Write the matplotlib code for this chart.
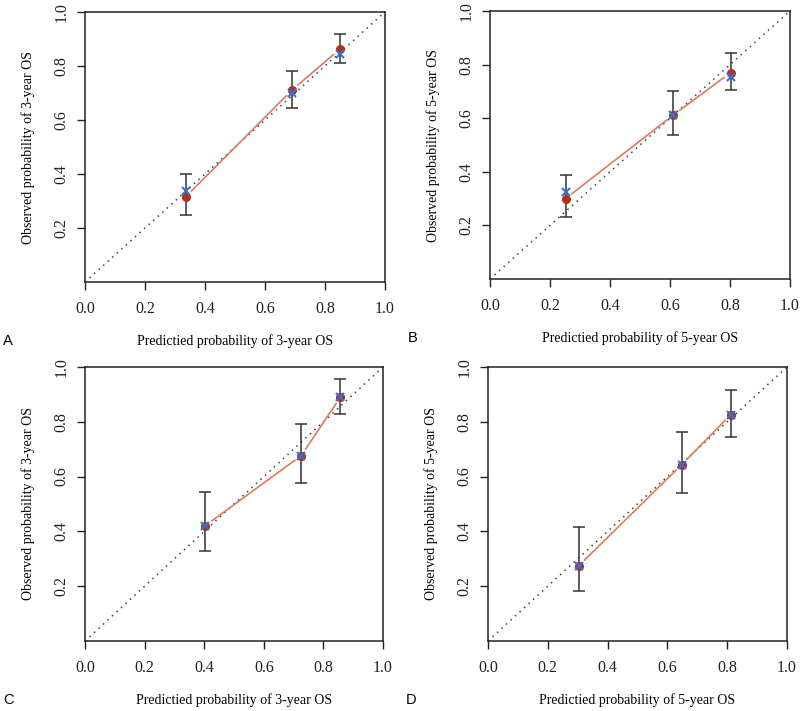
import numpy as np
import matplotlib
matplotlib.use("Agg")
import matplotlib.pyplot as plt

plt.rcParams["font.family"] = "Liberation Serif"

# calibration data
pred_a = [0.336, 0.690, 0.849]
obs_a = [0.316, 0.711, 0.862]
corr_a = [0.336, 0.700, 0.844]
lo_a = [0.250, 0.645, 0.811]
hi_a = [0.400, 0.783, 0.917]

pred_b = [0.252, 0.611, 0.802]
obs_b = [0.300, 0.612, 0.770]
corr_b = [0.324, 0.612, 0.752]
lo_b = [0.233, 0.537, 0.707]
hi_b = [0.387, 0.703, 0.844]

pred_c = [0.404, 0.726, 0.857]
obs_c = [0.421, 0.677, 0.890]
corr_c = [0.421, 0.677, 0.890]
lo_c = [0.327, 0.578, 0.828]
hi_c = [0.544, 0.791, 0.957]

pred_d = [0.304, 0.648, 0.812]
obs_d = [0.275, 0.644, 0.826]
corr_d = [0.275, 0.644, 0.826]
lo_d = [0.182, 0.541, 0.745]
hi_d = [0.415, 0.762, 0.916]

ticks = [0.0, 0.2, 0.4, 0.6, 0.8, 1.0]

# letter, year, axes box in pixels (left, top, width, height)
panels = [
    ("A", "3", (85, 12, 300, 270), pred_a, obs_a, corr_a, lo_a, hi_a),
    ("B", "5", (490, 11, 300, 268), pred_b, obs_b, corr_b, lo_b, hi_b),
    ("C", "3", (85, 367, 298, 274), pred_c, obs_c, corr_c, lo_c, hi_c),
    ("D", "5", (488, 367, 299, 274), pred_d, obs_d, corr_d, lo_d, hi_d),
]

W, H = 800, 711
fig = plt.figure(figsize=(W / 100, H / 100), dpi=100)

for letter, yr, box, pred, obs, corr, lo, hi in panels:
    l, t, w, h = box
    ax = fig.add_axes([l / W, 1 - (t + h) / H, w / W, h / H])
    ax.set_xlim(0, 1)
    ax.set_ylim(0, 1)

    # ideal line
    ax.plot([0, 1], [0, 1], linestyle=(0, (1, 3)), color="#3a3f5a", lw=1.1)

    # connecting line with gaps at the points (R type="b")
    gap = 0.028
    for i in range(len(pred) - 1):
        x0, y0, x1, y1 = pred[i], obs[i], pred[i + 1], obs[i + 1]
        d = np.hypot(x1 - x0, y1 - y0)
        ux, uy = (x1 - x0) / d, (y1 - y0) / d
        ax.plot([x0 + gap * ux, x1 - gap * ux], [y0 + gap * uy, y1 - gap * uy],
                color="#e07a5a", lw=1.2)

    # error bars
    ax.errorbar(pred, obs, yerr=[np.array(obs) - np.array(lo), np.array(hi) - np.array(obs)],
                fmt="none", ecolor="#333333", elinewidth=1.1, capsize=4, capthick=1.1)
    ax.plot(pred, obs, "o", color="#b0301c", ms=5.5)
    ax.plot(pred, corr, "x", color="#3a6fd0", ms=6, mew=1.5)

    ax.set_xticks(ticks)
    ax.set_xticklabels(["%.1f" % v for v in ticks])
    ax.set_yticks(ticks[1:])
    ax.set_yticklabels(["%.1f" % v for v in ticks[1:]], rotation=90, va="center")
    ax.tick_params(direction="out", length=6, width=1, labelsize=11.5, colors="#222222")
    ax.tick_params(axis="x", pad=8)
    ax.tick_params(axis="y", pad=5)
    for s in ax.spines.values():
        s.set_linewidth(1.1)
        s.set_color("#222222")

    ax.set_xlabel("Predictied probability of %s-year OS" % yr, fontsize=10, va="center")
    ax.set_ylabel("Observed probability of %s-year OS" % yr, fontsize=10, va="center")
    ax.xaxis.set_label_coords(0.5, -59 / h)
    ax.yaxis.set_label_coords(-57 / w, 0.5)

    ax.text(-77 / w, -59 / h, letter, transform=ax.transAxes, fontsize=10.5,
            family="Liberation Sans", ha="center", va="center")

fig.savefig("out.png", dpi=100)
